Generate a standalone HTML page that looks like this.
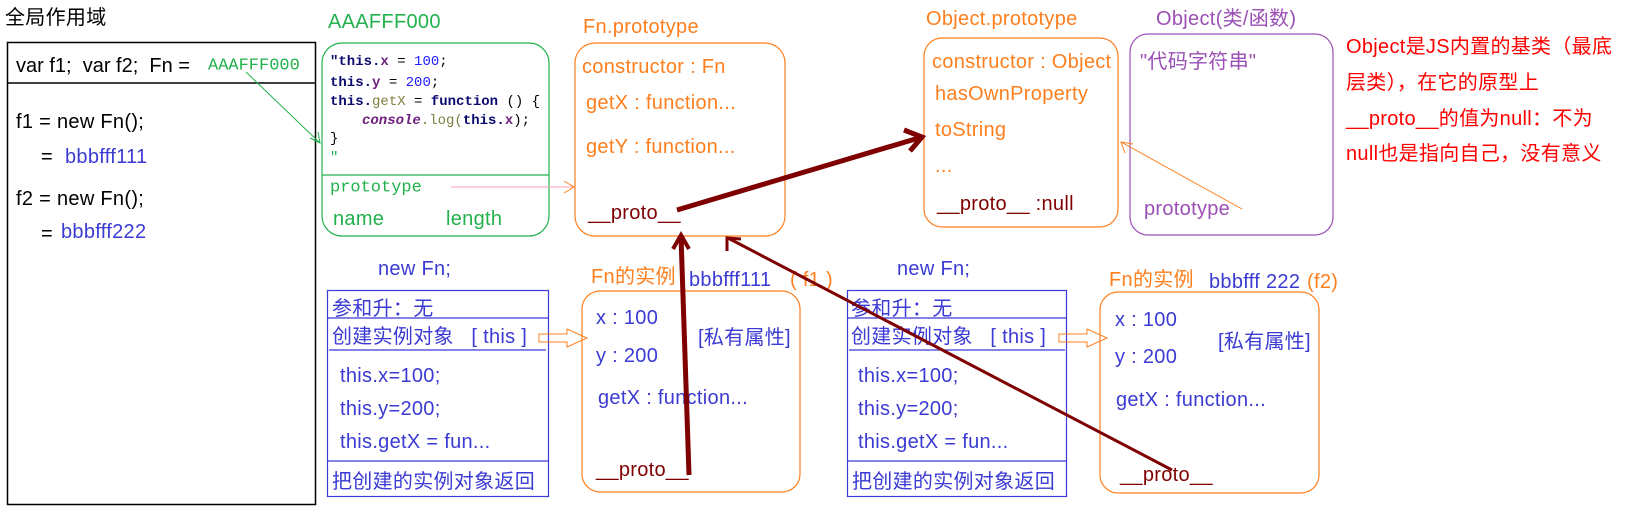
<!DOCTYPE html>
<html><head><meta charset="utf-8"><style>
html,body{margin:0;padding:0;background:#fff;}
svg{display:block;}
text{font-family:"Liberation Sans","Noto Sans CJK SC",sans-serif;font-size:20px;dominant-baseline:central;white-space:pre;letter-spacing:0.3px;}
text.m{font-family:"Liberation Mono","Noto Sans CJK SC",monospace;letter-spacing:0;}
.o{fill:#ff7f1e;} .b{fill:#3b3bd4;} .g{fill:#22b14c;} .p{fill:#9b4fb5;} .r{fill:#ff0000;} .k{fill:#000;} .d{fill:#7f0000;}
</style></head><body>
<svg width="1633" height="529" viewBox="0 0 1633 529" xmlns="http://www.w3.org/2000/svg">
<!-- global scope -->
<text x="5" y="18" class="k">全局作用域</text>
<rect x="7.5" y="42.5" width="308" height="462" fill="none" stroke="#000" stroke-width="1.5"/>
<line x1="8" y1="83" x2="315" y2="83" stroke="#000" stroke-width="1.5"/>
<text x="16" y="66" class="k" style="letter-spacing:0">var f1;  var f2;  Fn =</text>
<text x="208" y="66" class="m g" style="font-size:17px">AAAFFF000</text>
<text x="16" y="122" class="k">f1 = new Fn();</text>
<text x="41" y="157" class="k">=</text><text x="65" y="157" class="b">bbbfff111</text>
<text x="16" y="199" class="k">f2 = new Fn();</text>
<text x="41" y="234" class="k">=</text><text x="61" y="232" class="b">bbbfff222</text>
<line x1="246" y1="72" x2="320" y2="143" stroke="#22b14c" stroke-width="1"/>
<path d="M310,138 L320,143 L318,132" fill="none" stroke="#22b14c" stroke-width="1"/>

<!-- AAAFFF000 -->
<text x="328" y="22" class="g">AAAFFF000</text>
<rect x="322" y="43" width="227" height="193" rx="20" fill="none" stroke="#22b14c" stroke-width="1.2"/>
<line x1="322" y1="175" x2="549" y2="175" stroke="#22b14c" stroke-width="1.2"/>
<text x="330" y="62" class="m" style="font-size:14px;font-weight:bold"><tspan fill="#0a0a6e">"this.</tspan><tspan fill="#6f1f7f">x</tspan><tspan fill="#000" font-weight="normal"> = </tspan><tspan fill="#1c1cff" font-weight="normal">100</tspan><tspan fill="#000" font-weight="normal">;</tspan></text>
<text x="330" y="83" class="m" style="font-size:14px;font-weight:bold"><tspan fill="#0a0a6e">this.</tspan><tspan fill="#6f1f7f">y</tspan><tspan fill="#000" font-weight="normal"> = </tspan><tspan fill="#1c1cff" font-weight="normal">200</tspan><tspan fill="#000" font-weight="normal">;</tspan></text>
<text x="330" y="102" class="m" style="font-size:14px;font-weight:bold"><tspan fill="#0a0a6e">this.</tspan><tspan fill="#7f7f3f" font-weight="normal">getX</tspan><tspan fill="#000" font-weight="normal"> = </tspan><tspan fill="#0a0a6e">function</tspan><tspan fill="#000" font-weight="normal"> () {</tspan></text>
<text x="362" y="121" class="m" style="font-size:14px;font-weight:bold"><tspan fill="#6f1f7f" font-style="italic">console</tspan><tspan fill="#7f7f3f" font-weight="normal">.log(</tspan><tspan fill="#0a0a6e">this.</tspan><tspan fill="#6f1f7f">x</tspan><tspan fill="#000" font-weight="normal">);</tspan></text>
<text x="330" y="139" class="m" fill="#000" style="font-size:14px">}</text>
<text x="330" y="158" class="m" fill="#22b14c" style="font-size:14px">"</text>
<text x="330" y="188" class="m g" style="font-size:17px">prototype</text>
<line x1="451" y1="187" x2="574" y2="187" stroke="#ffa0b4" stroke-width="1"/>
<path d="M564,181 L574,187 L564,193" fill="none" stroke="#ff7f1e" stroke-width="1"/>
<text x="333" y="219" class="g">name</text>
<text x="446" y="219" class="g">length</text>

<!-- Fn.prototype -->
<text x="583" y="27" class="o">Fn.prototype</text>
<rect x="575" y="43" width="210" height="193" rx="20" fill="none" stroke="#ff7f1e" stroke-width="1.2"/>
<text x="582" y="67" class="o">constructor : Fn</text>
<text x="586" y="103" class="o">getX : function...</text>
<text x="586" y="147" class="o">getY : function...</text>
<text x="588" y="213" class="d">__proto__</text>

<!-- Object.prototype -->
<text x="926" y="19" class="o">Object.prototype</text>
<rect x="924" y="38" width="194" height="189" rx="18" fill="none" stroke="#ff7f1e" stroke-width="1.2"/>
<text x="932" y="62" class="o">constructor : Object</text>
<text x="935" y="94" class="o">hasOwnProperty</text>
<text x="935" y="130" class="o">toString</text>
<text x="935" y="166" class="o">...</text>
<text x="937" y="204" class="d">__proto__ :null</text>

<!-- Object -->
<text x="1156" y="19" class="p">Object(类/函数)</text>
<rect x="1130" y="34" width="203" height="201" rx="18" fill="none" stroke="#9b4fb5" stroke-width="1.2"/>
<text x="1140" y="62" class="p">"代码字符串"</text>
<text x="1144" y="209" class="p">prototype</text>
<line x1="1242" y1="209" x2="1121" y2="142" stroke="#ff7f1e" stroke-width="1"/>
<path d="M1133,144 L1121,142 L1125,153" fill="none" stroke="#ff7f1e" stroke-width="1"/>

<!-- red note -->
<text x="1346" y="47" class="r">Object是JS内置的基类（最底</text>
<text x="1346" y="83" class="r">层类），在它的原型上</text>
<text x="1346" y="119" class="r">__proto__的值为null：不为</text>
<text x="1346" y="154" class="r">null也是指向自己，没有意义</text>

<!-- new Fn boxes -->
<text x="378" y="269" class="b">new Fn;</text>
<rect x="327.5" y="290.5" width="221" height="206" fill="none" stroke="#3b3bd4" stroke-width="1.2"/>
<line x1="328" y1="318" x2="548" y2="318" stroke="#3b3bd4" stroke-width="1.2"/>
<line x1="329" y1="350" x2="546" y2="350" stroke="#3b3bd4" stroke-width="1.2"/>
<line x1="328" y1="461" x2="548" y2="461" stroke="#3b3bd4" stroke-width="1.2"/>
<text x="332" y="309" class="b">参和升：无</text>
<text x="332" y="337" class="b">创建实例对象   [ this ]</text>
<text x="340" y="376" class="b">this.x=100;</text>
<text x="340" y="409" class="b">this.y=200;</text>
<text x="340" y="442" class="b">this.getX = fun...</text>
<text x="332" y="482" class="b">把创建的实例对象返回</text>
<path d="M539,334 L567,334 L567,329 L587,338 L567,347 L567,342 L539,342 Z" fill="none" stroke="#ff7f1e" stroke-width="1"/>

<text x="897" y="269" class="b">new Fn;</text>
<rect x="847.5" y="290.5" width="219" height="206" fill="none" stroke="#3b3bd4" stroke-width="1.2"/>
<line x1="848" y1="318" x2="1066" y2="318" stroke="#3b3bd4" stroke-width="1.2"/>
<line x1="849" y1="350" x2="1065" y2="350" stroke="#3b3bd4" stroke-width="1.2"/>
<line x1="848" y1="461" x2="1066" y2="461" stroke="#3b3bd4" stroke-width="1.2"/>
<text x="851" y="309" class="b">参和升：无</text>
<text x="851" y="337" class="b">创建实例对象   [ this ]</text>
<text x="858" y="376" class="b">this.x=100;</text>
<text x="858" y="409" class="b">this.y=200;</text>
<text x="858" y="442" class="b">this.getX = fun...</text>
<text x="852" y="482" class="b">把创建的实例对象返回</text>
<path d="M1059,334 L1087,334 L1087,329 L1107,338 L1087,347 L1087,342 L1059,342 Z" fill="none" stroke="#ff7f1e" stroke-width="1"/>

<!-- instances -->
<text x="591" y="277" class="o">Fn的实例</text>
<text x="689" y="280" class="b">bbbfff111</text><text x="790" y="280" class="o">( f1 )</text>
<rect x="582" y="291" width="218" height="201" rx="18" fill="none" stroke="#ff7f1e" stroke-width="1.2"/>
<text x="596" y="318" class="b">x : 100</text>
<text x="596" y="356" class="b">y : 200</text>
<text x="698" y="338" class="b">[私有属性]</text>
<text x="598" y="398" class="b">getX : function...</text>
<text x="596" y="470" class="d">__proto__</text>

<text x="1109" y="280" class="o">Fn的实例</text>
<text x="1209" y="282" class="b">bbbfff 222</text><text x="1307" y="282" class="o">(f2)</text>
<rect x="1100" y="292" width="219" height="201" rx="18" fill="none" stroke="#ff7f1e" stroke-width="1.2"/>
<text x="1115" y="320" class="b">x : 100</text>
<text x="1115" y="357" class="b">y : 200</text>
<text x="1218" y="342" class="b">[私有属性]</text>
<text x="1116" y="400" class="b">getX : function...</text>
<text x="1120" y="475" class="d">__proto__</text>

<!-- dark red arrows -->
<line x1="677" y1="210" x2="922" y2="137" stroke="#7f0000" stroke-width="5"/>
<path d="M904,130 L922,137 L910,151" fill="none" stroke="#7f0000" stroke-width="5"/>
<line x1="689" y1="475" x2="681" y2="236" stroke="#7f0000" stroke-width="5"/>
<path d="M673,249 L681,235 L689,249" fill="none" stroke="#7f0000" stroke-width="4"/>
<line x1="1172" y1="470" x2="728" y2="238" stroke="#7f0000" stroke-width="3"/>
<path d="M727,251 L727,238 L741,239" fill="none" stroke="#7f0000" stroke-width="3"/>
</svg>
</body></html>
